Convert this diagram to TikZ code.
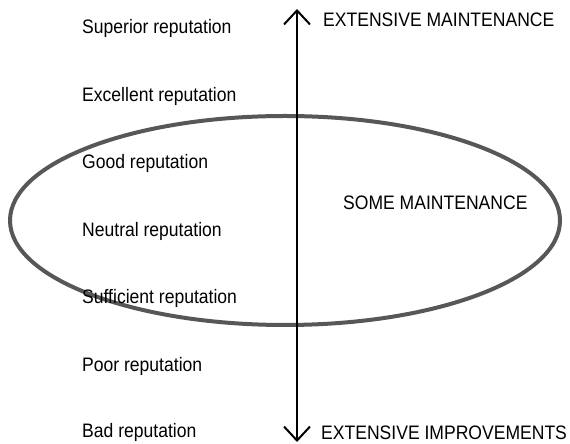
\documentclass[tikz,border=0pt]{standalone}
\usepackage{fontspec}
\setmainfont{Liberation Sans}[FakeStretch=0.9]
\usetikzlibrary{arrows.meta}
\begin{document}
\begin{tikzpicture}[x=1pt, y=1pt,
	lbl/.style = {anchor=base west, inner sep=0pt, font=\fontsize{19.5}{22}\selectfont},
	ring/.style = {line width=4pt, black!66},
	axis/.style = {line width=2pt, {Straight Barb[length=14pt,width=26pt]}-{Straight Barb[length=14pt,width=26pt]}}]
	\useasboundingbox (0,0) rectangle (570,444);
	\draw [ring] (285,223.5) ellipse [x radius=275, y radius=104.5];

	\node [lbl] (superior) at (82,410) {Superior reputation};
	\node [lbl] (excellent) at (82,342.5) {Excellent reputation};
	\node [lbl] (good) at (82,275) {Good reputation};
	\node [lbl] (neutral) at (82,207.5) {Neutral reputation};
	\node [lbl] (sufficient) at (82,140) {Sufficient reputation};
	\node [lbl] (poor) at (82,72.5) {Poor reputation};
	\node [lbl] (bad) at (82,6) {Bad reputation};

	\coordinate (top) at (297,435);
	\coordinate (bottom) at (297,2);
	\draw [axis] (bottom) -- (top);

	\node [lbl] (maint) at (323,417) {EXTENSIVE MAINTENANCE};
	\node [lbl] (some) at (343,234) {SOME MAINTENANCE};
	\node [lbl] (improve) at (321,4) {EXTENSIVE IMPROVEMENTS};
\end{tikzpicture}
\end{document}
